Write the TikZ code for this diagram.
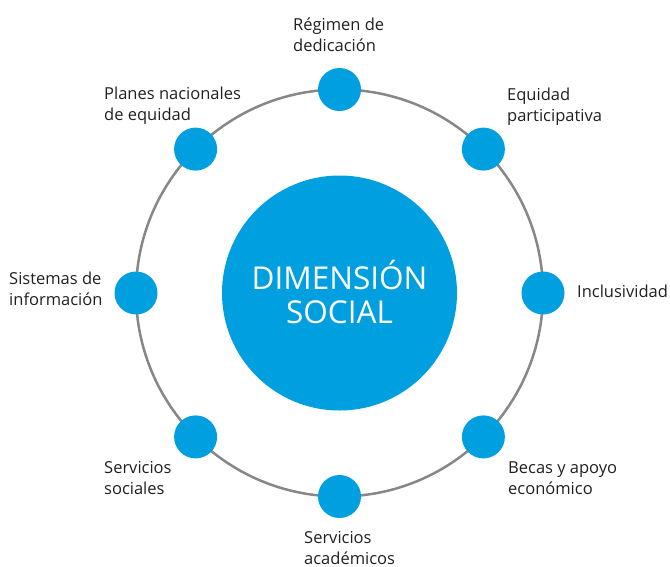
\documentclass[tikz,border=0pt]{standalone}
\usepackage{fontspec}
\setmainfont{Open Sans}
\usetikzlibrary{calc}
\definecolor{dblue}{HTML}{009FE0}
\definecolor{ringgray}{HTML}{878787}
\definecolor{txt}{HTML}{231F20}
\begin{document}
\begin{tikzpicture}[x=1pt,y=-1pt,
  dot/.style={circle,fill=dblue,minimum size=43pt,inner sep=0pt},
  lbl/.style={align=left,anchor=base west,font=\fontsize{16.5}{20.8}\selectfont,text=txt,inner sep=0pt},
  ]
\useasboundingbox (0,0) rectangle (670,566);
\coordinate (c) at (339.5,293);
\draw[ringgray, line width=2.5pt] (c) circle (203.5);
\node[circle,fill=dblue,minimum size=235pt,inner sep=0pt] (center) at (c) {};
\node[text=white,align=center,anchor=base,inner sep=0pt,font=\fontsize{31.5}{34}\selectfont] (title) at (339.5,323) {DIMENSIÓN\\SOCIAL};
\foreach \a/\n in {90/d1,45/d2,0/d3,-45/d4,-90/d5,-135/d6,180/d7,135/d8}
  \node[dot] (\n) at ($(c)+(\a:203.5 and -203.5)$) {};
\node[lbl] (l1) at (293,51.7) {Régimen de\\dedicación};
\node[lbl] (l2) at (507,121) {Equidad\\participativa};
\node[lbl] (l3) at (577,297) {Inclusividad};
\node[lbl] (l4) at (508,494) {Becas y apoyo\\económico};
\node[lbl] (l5) at (304,564) {Servicios\\académicos};
\node[lbl] (l6) at (104,494) {Servicios\\sociales};
\node[lbl] (l7) at (9,305.5) {Sistemas de\\información};
\node[lbl] (l8) at (104,120.5) {Planes nacionales\\de equidad};
\end{tikzpicture}
\end{document}
